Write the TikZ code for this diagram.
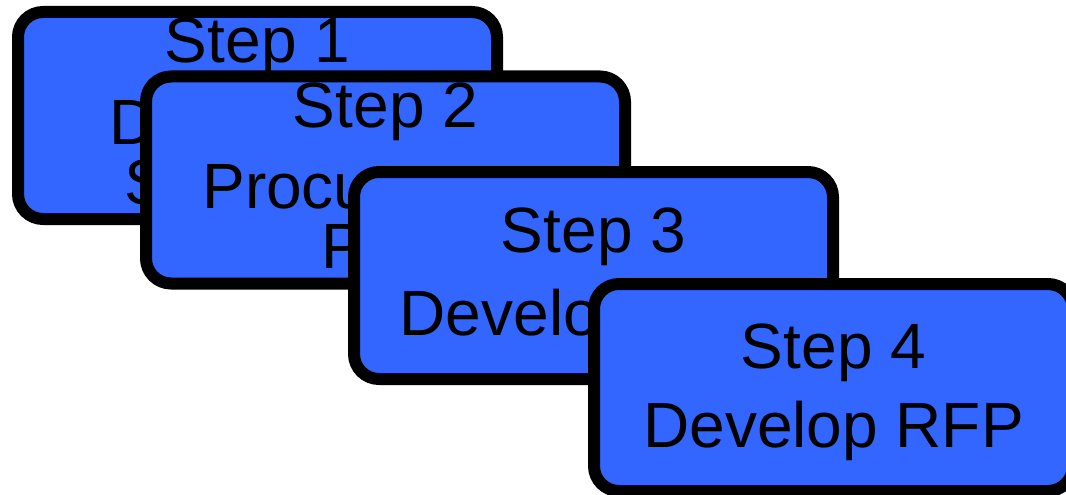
\documentclass[tikz,border=0pt]{standalone}
\usepackage{fontspec}
\setmainfont{Liberation Sans}
\definecolor{stepblue}{HTML}{3366FF}
\begin{document}
\begin{tikzpicture}[x=1pt,y=-1pt,
  stepbox/.style={draw=black,line width=12pt,fill=stepblue,rounded corners=25pt,
    minimum width=479pt,minimum height=207pt,inner sep=0pt},
  steptext/.style={inner sep=0pt,font=\fontsize{64}{64}\selectfont,text=black,anchor=base}]
\useasboundingbox (0,0) rectangle (1066,495);
\clip (0,0) rectangle (1066,495);
% Step 1
\node[stepbox] (b1) at (257.5,115.5) {};
\node[steptext] (t1a) at (257.5,63) {Step 1};
\node[steptext] (t1b) at (257.5,144) {Determine};
\node[steptext] (t1c) at (257.5,204) {Suppliers};
% Step 2
\node[stepbox] (b2) at (385.5,180) {};
\node[steptext] (t2a) at (385.5,127) {Step 2};
\node[steptext] (t2b) at (385.5,208) {Procurement};
\node[steptext] (t2c) at (385.5,268) {Plan};
% Step 3
\node[stepbox] (b3) at (593.5,275.5) {};
\node[steptext] (t3a) at (593.5,252) {Step 3};
\node[steptext] (t3b) at (593.5,335) {Develop RFQ};
% Step 4
\node[stepbox] (b4) at (833.5,387.5) {};
\node[steptext] (t4a) at (833.5,368) {Step 4};
\node[steptext] (t4b) at (833.5,447) {Develop RFP};
\end{tikzpicture}
\end{document}
